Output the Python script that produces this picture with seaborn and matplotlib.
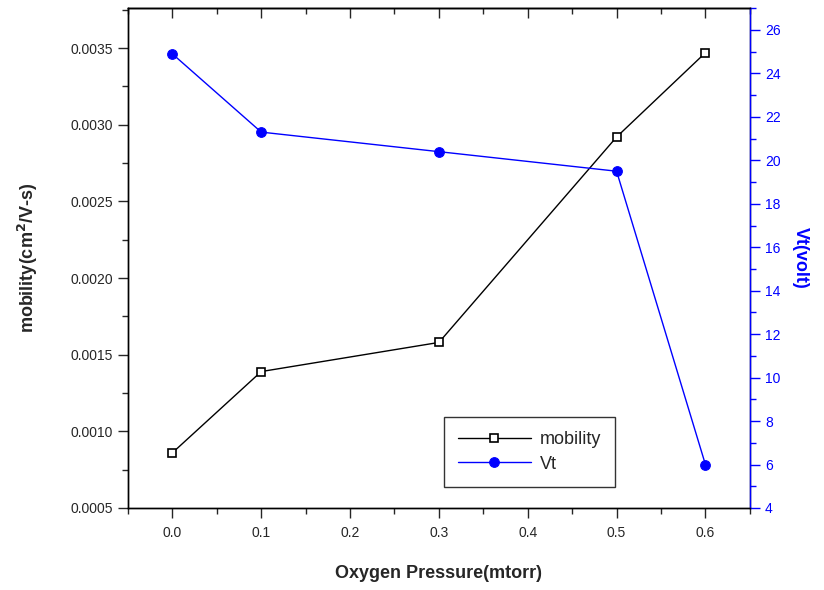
import matplotlib
matplotlib.use("Agg")
import matplotlib.pyplot as plt
import seaborn as sns
import pandas as pd
from matplotlib.ticker import MultipleLocator, FormatStrFormatter, NullFormatter

pressure = [0.0, 0.1, 0.3, 0.5, 0.6]
mobility = [0.00086, 0.00139, 0.00158, 0.00292, 0.00347]
vt = [24.9, 21.3, 20.4, 19.5, 6.0]

sns.set_style("white")
plt.rcParams['font.family'] = ['Liberation Sans', 'DejaVu Sans']

df = pd.DataFrame({"pressure": pressure, "mobility": mobility, "vt": vt})

fig = plt.figure(figsize=(8.24, 5.90), dpi=100)
ax = fig.add_axes([0.1553, 0.139, 0.7547, 0.847])
ax2 = ax.twinx()

sns.lineplot(data=df, x="pressure", y="mobility", ax=ax, color="black", lw=1,
             marker="s", markersize=6, markerfacecolor="white",
             markeredgecolor="black", markeredgewidth=1.2, label="mobility", legend=False)
sns.lineplot(data=df, x="pressure", y="vt", ax=ax2, color="#0000ff", lw=1,
             marker="o", markersize=7, markerfacecolor="#0000ff",
             markeredgecolor="#0000ff", label="Vt", legend=False)

ax.set_xlim(-0.05, 0.65)
ax.set_ylim(0.0005, 0.00376)
ax2.set_ylim(4, 27)

ax.xaxis.set_major_locator(MultipleLocator(0.1))
ax.xaxis.set_minor_locator(MultipleLocator(0.05))
ax.xaxis.set_major_formatter(FormatStrFormatter('%.1f'))
ax.yaxis.set_major_locator(MultipleLocator(0.0005))
ax.yaxis.set_minor_locator(MultipleLocator(0.00025))
ax.yaxis.set_major_formatter(FormatStrFormatter('%.4f'))
ax2.yaxis.set_major_locator(MultipleLocator(2))
ax2.yaxis.set_minor_locator(MultipleLocator(1))

ax.tick_params(axis='x', which='both', direction='out', bottom=True, top=False,
               labelsize=10, pad=6)
ax.tick_params(axis='x', which='major', length=7, width=1)
ax.tick_params(axis='x', which='minor', length=4, width=1)
ax.tick_params(axis='y', which='both', direction='out', left=True, right=False,
               labelsize=10, pad=4)
ax.tick_params(axis='y', which='major', length=7, width=1)
ax.tick_params(axis='y', which='minor', length=4, width=1)
ax2.tick_params(axis='y', which='both', direction='out', colors="#0000ff",
                labelsize=10, pad=4)
ax2.tick_params(axis='y', which='major', length=7, width=1)
ax2.tick_params(axis='y', which='minor', length=4, width=1)

# top axis: inward ticks without labels
top = ax.secondary_xaxis('top')
top.xaxis.set_major_locator(MultipleLocator(0.1))
top.xaxis.set_minor_locator(MultipleLocator(0.05))
top.xaxis.set_major_formatter(NullFormatter())
top.tick_params(axis='x', which='both', direction='in', width=1)
top.tick_params(axis='x', which='major', length=7)
top.tick_params(axis='x', which='minor', length=4)
top.spines['top'].set_linewidth(1)

for s in ax.spines.values():
    s.set_color("black")
    s.set_linewidth(1)
for name, s in ax2.spines.items():
    s.set_linewidth(1)
    s.set_color("black")
ax2.spines['right'].set_color("#0000ff")

ax.set_xlabel("Oxygen Pressure(mtorr)", fontsize=13, fontweight="bold", labelpad=18)
ax.set_ylabel("mobility(cm$^\\mathbf{2}$/V-s)", fontsize=13, fontweight="bold", labelpad=22)
ax2.set_ylabel("Vt(volt)", fontsize=13, fontweight="bold", color="#0000ff",
               rotation=270, va="bottom", labelpad=8)

h1, l1 = ax.get_legend_handles_labels()
h2, l2 = ax2.get_legend_handles_labels()
leg = ax2.legend(h1 + h2, l1 + l2, loc="lower left", bbox_to_anchor=(0.508, 0.042),
                 borderaxespad=0, fontsize=13, frameon=True, fancybox=False,
                 edgecolor="black", handlelength=4.0, borderpad=0.8,
                 labelspacing=0.4, handletextpad=0.5)
leg.get_frame().set_linewidth(1)
leg.get_frame().set_width(179)

fig.savefig("out.png", dpi=100)
